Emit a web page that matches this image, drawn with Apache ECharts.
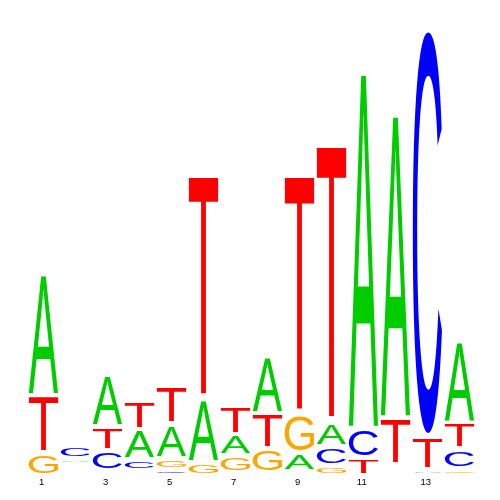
<!DOCTYPE html>
<html><head><meta charset="utf-8">
<script src="https://cdn.jsdelivr.net/npm/echarts@6/dist/echarts.min.js"></script>
<style>html,body{margin:0;padding:0;background:#fff}#c{width:500px;height:500px}</style>
</head><body><div id="c"></div>
<script>
// Sequence logo data (information content in bits per letter)
const positions = ['1','2','3','4','5','6','7','8','9','10','11','12','13','14'];
const bitsA = [0.540, 0.027, 0.234, 0.133, 0.155, 0.282, 0.095, 0.256, 0.084, 0.107, 1.581, 1.348, 0.027, 0.363];
const bitsC = [0.000, 0.056, 0.089, 0.048, 0.026, 0.000, 0.013, 0.010, 0.016, 0.086, 0.130, 0.022, 1.807, 0.088];
const bitsG = [0.098, 0.024, 0.021, 0.022, 0.048, 0.058, 0.074, 0.108, 0.172, 0.043, 0.000, 0.022, 0.000, 0.029];
const bitsT = [0.256, 0.024, 0.109, 0.134, 0.169, 0.996, 0.132, 0.158, 1.064, 1.234, 0.080, 0.213, 0.150, 0.119];
const letters = ['A', 'C', 'G', 'T'];
const letterColors = { A: '#00cc00', C: '#0000ff', G: '#ffa500', T: '#ff0000' };

const FONT = '100px "Liberation Sans"';
const mc = document.createElement('canvas').getContext('2d');
mc.font = FONT; mc.textAlign = 'center'; mc.textBaseline = 'middle';
const metrics = {};
letters.forEach(l => {
  const m = mc.measureText(l);
  metrics[l] = { L: m.actualBoundingBoxLeft, R: m.actualBoundingBoxRight, A: m.actualBoundingBoxAscent, D: m.actualBoundingBoxDescent };
});

const cols = { A: bitsA, C: bitsC, G: bitsG, T: bitsT };
const stackData = [];
positions.forEach((p, i) => {
  const order = letters.map(l => ({ l, v: cols[l][i] })).sort((a, b) => a.v - b.v);
  let base = 0;
  order.forEach(o => {
    stackData.push([i, base, base + o.v, letters.indexOf(o.l)]);
    base += o.v;
  });
});

const chart = echarts.init(document.getElementById('c'), null, { renderer: 'canvas' });
chart.setOption({
  animation: false,
  backgroundColor: '#ffffff',
  grid: { left: 27.5, right: 24.5, top: 25.5, bottom: 24.5, containLabel: false, outerBoundsMode: 'none' },
  xAxis: {
    type: 'category', data: positions,
    axisLine: { show: false }, axisTick: { show: false }, splitLine: { show: false },
    axisLabel: { interval: 1, fontSize: 9.5, color: '#000', margin: 2, fontFamily: 'Liberation Sans', padding: [0, 3.5, 0, 0] }
  },
  yAxis: { type: 'value', min: 0, max: 2, show: false },
  series: [{
    type: 'custom',
    data: stackData,
    encode: { x: 0, y: [1, 2] },
    renderItem: function (params, api) {
      const i = api.value(0), y0 = api.value(1), y1 = api.value(2);
      const l = letters[api.value(3)];
      const pb = api.coord([i, y0]);
      const pt = api.coord([i, y1]);
      const band = api.size([1, 0])[0];
      const w = band * 0.92;
      const inset = 2.5;
      const top = pt[1] + inset, bottom = pb[1] - inset;
      const h = bottom - top;
      if (h < 0.8) return { type: 'group', children: [] };
      const m = metrics[l];
      const sx = w / (m.L + m.R), sy = h / (m.A + m.D);
      const left = pb[0] - w / 2;
      return {
        type: 'text',
        x: left + m.L * sx,
        y: top + m.A * sy,
        scaleX: sx, scaleY: sy,
        silent: true,
        style: {
          text: l, x: 0, y: 0, font: FONT, fill: letterColors[l],
          align: 'center', verticalAlign: 'middle',
          textAlign: 'center', textVerticalAlign: 'middle'
        }
      };
    }
  }]
});
</script></body></html>
